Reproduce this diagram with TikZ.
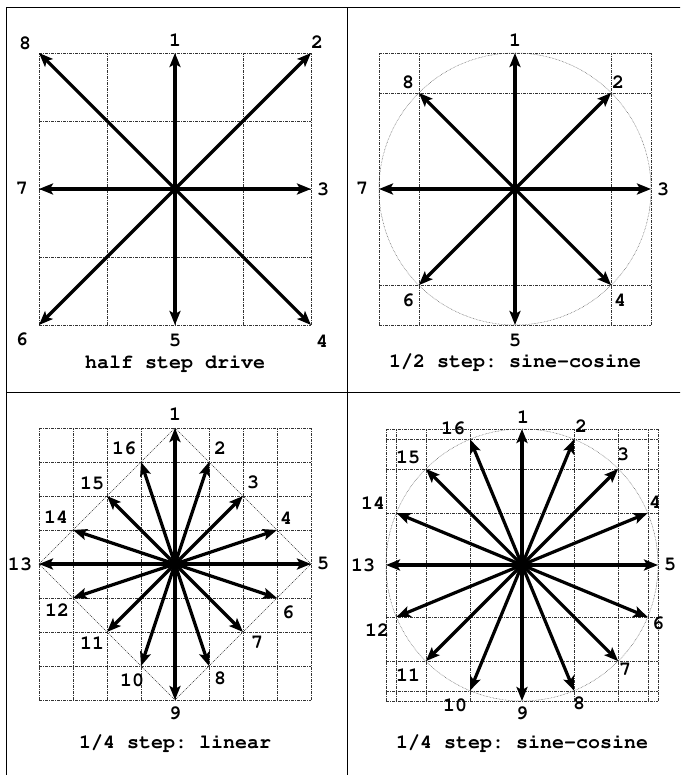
\documentclass[tikz,border=0pt]{standalone}
\usepackage[T1]{fontenc}
\usetikzlibrary{arrows.meta}
\tikzset{
  freccia/.style={line width=3.2pt, -{Stealth[length=14pt,width=11pt,inset=3pt]}},
  griglia/.style={line width=0.6pt, black!80, dash pattern=on 3pt off 1pt on 1pt off 1pt},
  cerchio/.style={line width=0.5pt, black!65, dash pattern=on 0.6pt off 0.9pt},
  rombo/.style={line width=0.5pt, black!85, dash pattern=on 1pt off 1pt},
  cifra/.style={font=\fontencoding{T1}\fontfamily{pcr}\fontseries{b}\fontsize{20}{20}\selectfont\frenchspacing, inner sep=0pt},
}
\begin{document}
\begin{tikzpicture}[x=1pt,y=1pt]
        % --- macro riutilizzabili -----------------------------------------
        \def\raggio{136}
        \def\etichetta#1#2#3{\node[cifra] (#1) at #2 {#3};}
        \useasboundingbox (0,0) rectangle (680,775);
        \clip (0,0) rectangle (680,775);
        % --- cornice ------------------------------------------------------
        \draw[line width=1pt] (6.5,767.5) rectangle (690,-10);
        \draw[line width=1pt] (347,767.5) -- (347,-10);
        \draw[line width=1pt] (6.5,382) -- (690,382);
        % --- half step drive ----------------------------------------------
        \begin{scope}[shift={(175,586)}]
          \foreach \g in {-136,-68,0,68,136}{
            \draw[griglia] (\g,-\raggio) -- (\g,\raggio);
            \draw[griglia] (-\raggio,\g) -- (\raggio,\g);
          }
          \coordinate (o1) at (0,0);
          \foreach \k/\x/\y/\lx/\ly in {1/0/136/0/149, 2/136/136/142/147,
              3/136/0/148/0, 4/136/-136/147/-152, 5/0/-136/0/-152,
              6/-136/-136/-153/-150, 7/-136/0/-153/0, 8/-136/136/-150/146}{
            \coordinate (p1-\k) at (\x,\y);
            \draw[freccia] (o1) -- (p1-\k);
            \etichetta{n1-\k}{(\lx,\ly)}{\k}
          }
          \etichetta{d1}{(0,-174)}{half step drive}
        \end{scope}
        % --- 1/2 step: sine-cosine ----------------------------------------
        \begin{scope}[shift={(515,586)}]
          \foreach \g in {-136,-96,96,136}{
            \draw[griglia] (\g,-\raggio) -- (\g,\raggio);
            \draw[griglia] (-\raggio,\g) -- (\raggio,\g);
          }
          \draw[cerchio] (0,0) circle (\raggio);
          \coordinate (o2) at (0,0);
          \foreach \k/\lx/\ly in {1/0/149, 2/103/107, 3/148/0, 4/105/-111,
              5/0/-152, 6/-107/-111, 7/-153/0, 8/-107/107}{
            \coordinate (p2-\k) at ({90-45*(\k-1)}:\raggio);
            \draw[freccia] (o2) -- (p2-\k);
            \etichetta{n2-\k}{(\lx,\ly)}{\k}
          }
          \etichetta{d2}{(0,-173)}{1/2 step: sine-cosine}
        \end{scope}
        % --- 1/4 step: linear ---------------------------------------------
        \begin{scope}[shift={(175,211)}]
          \foreach \g in {-4,...,4}{
            \draw[griglia] (34*\g,-\raggio) -- (34*\g,\raggio);
            \draw[griglia] (-\raggio,34*\g) -- (\raggio,34*\g);
          }
          \draw[rombo] (0,136) -- (136,0) -- (0,-136) -- (-136,0) -- cycle;
          \coordinate (o3) at (0,0);
          \foreach \k/\x/\y/\lx/\ly in {1/0/4/0/150, 2/1/3/45/116, 3/2/2/78/82,
              4/3/1/111/46, 5/4/0/148/0, 6/3/-1/113/-48, 7/2/-2/82/-79,
              8/1/-3/45/-114, 9/0/-4/0/-149, 10/-1/-3/-43/-116,
              11/-2/-2/-83/-79, 12/-3/-1/-118/-46, 13/-4/0/-155/0,
              14/-3/1/-119/47, 15/-2/2/-83/81, 16/-1/3/-51/116}{
            \coordinate (p3-\k) at (34*\x,34*\y);
            \draw[freccia] (o3) -- (p3-\k);
            \etichetta{n3-\k}{(\lx,\ly)}{\k}
          }
          \etichetta{d3}{(0,-179)}{1/4 step: linear}
        \end{scope}
        % --- 1/4 step: sine-cosine ----------------------------------------
        \begin{scope}[shift={(522,210)}]
          \foreach \g in {-136,-126,-96,-52,52,96,126,136}{
            \draw[griglia] (\g,-\raggio) -- (\g,\raggio);
            \draw[griglia] (-\raggio,\g) -- (\raggio,\g);
          }
          \draw[cerchio] (0,0) circle (\raggio);
          \coordinate (o4) at (0,0);
          \foreach \k/\lx/\ly in {1/1/148, 2/59/139, 3/101/111, 4/133/63,
              5/148/0, 6/136/-58, 7/103/-105, 8/57/-138, 9/0/-148,
              10/-67/-140, 11/-114/-110, 12/-145/-65, 13/-159/0,
              14/-149/62, 15/-114/108, 16/-69/137}{
            \coordinate (p4-\k) at ({90-22.5*(\k-1)}:\raggio);
            \draw[freccia] (o4) -- (p4-\k);
            \etichetta{n4-\k}{(\lx,\ly)}{\k}
          }
          \etichetta{d4}{(0,-178)}{1/4 step: sine-cosine}
        \end{scope}
    \end{tikzpicture}
\end{document}
